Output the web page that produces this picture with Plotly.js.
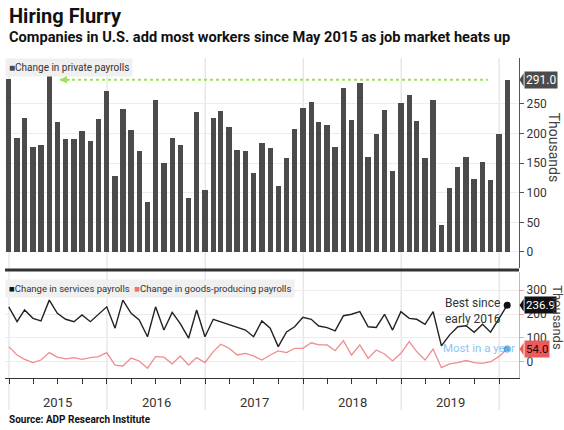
<!DOCTYPE html>
<html><head><meta charset="utf-8">
<script src="https://cdn.plot.ly/plotly-3.0.1.min.js"></script>
<style>body{margin:0;background:#fff}#c{width:564px;height:430px}</style>
</head><body><div id="c"></div>
<script>
// Monthly data Dec 2014 .. Jan 2020 (thousands)
const startYear = 2014, startMonth = 11; // December 2014 (0-based month)
const privatePayrolls = [292,192,227,178,180,297,220,190,190,204,187,224,
  272,129,242,206,170,84,256,151,192,181,91,237,
  105,226,238,211,173,171,134,184,175,111,158,207,
  243,253,220,214,178,277,223,286,160,200,240,137,
  251,266,222,158,256,45,108,143,160,124,152,122,
  200,291];
const servicesPayrolls = [230,168,217,182,171,258,203,178,168,196,168,199,
  230,141,258,203,175,105,230,133,207,160,99,217,
  105,178,168,158,147,133,105,171,141,64,125,147,
  186,178,150,143,130,193,199,210,147,144,199,133,
  210,182,178,157,210,67,112,147,151,124,157,124,
  180,236.9];
const goodsPayrolls = [64,29,11,-3,8,39,20,13,18,11,18,22,
  39,-13,-17,16,4,-26,22,20,-8,25,-13,18,
  -3,43,74,57,29,36,25,8,29,46,39,57,
  57,80,71,71,47,89,29,71,15,50,33,4,
  36,85,43,8,54,-24,-8,-3,6,-3,-6,1,
  22,54.0];
const yearLabels = ['2015','2016','2017','2018','2019'];
const topTicks = [0,50,100,150,200,250];
const bottomTicks = [0,100,200,300];
const recordValue = 291;

function monthEnd(i){
  const d = new Date(Date.UTC(startYear, startMonth + i + 1, 0));
  return d.toISOString().slice(0,10);
}
const dates = privatePayrolls.map((_, i) => monthEnd(i));
const last = dates.length - 1;

const FONT = 'Roboto, sans-serif';
const DAY = 86400000;

const traces = [
  {type:'bar', x:dates, y:privatePayrolls, xaxis:'x', yaxis:'y',
   marker:{color:'#4b4b4b'}, width:20*DAY, hoverinfo:'none'},
  {type:'scatter', mode:'lines', x:dates, y:goodsPayrolls, xaxis:'x2', yaxis:'y2',
   line:{color:'#f08c8c', width:1.3}, hoverinfo:'none'},
  {type:'scatter', mode:'lines', x:dates, y:servicesPayrolls, xaxis:'x2', yaxis:'y2',
   line:{color:'#222', width:1.4}, hoverinfo:'none'},
  {type:'scatter', mode:'markers', x:[dates[last]], y:[servicesPayrolls[last]], xaxis:'x2', yaxis:'y2',
   marker:{color:'#111', size:7}, hoverinfo:'none'},
  {type:'scatter', mode:'markers', x:[dates[last]], y:[goodsPayrolls[last]], xaxis:'x2', yaxis:'y2',
   marker:{color:'#3d9be9', size:7}, hoverinfo:'none'}
];

const xr = ['2014-12-17','2020-03-15'];
const shapes = [];
for (let y = 2015; y <= 2020; y++) {
  shapes.push({type:'line', xref:'x2', yref:'paper', x0:y+'-01-01', x1:y+'-01-01', y0:-0.1, y1:1,
    line:{color:'#dcdcdc', width:1}, layer:'below'});
}
// separator
shapes.push({type:'line', xref:'paper', yref:'paper', x0:0, x1:1, y0:0.3375, y1:0.3375,
  line:{color:'#333', width:3}});
// record line
shapes.push({type:'line', xref:'x', yref:'y', x0:'2015-07-10', x1:'2019-11-20', y0:recordValue, y1:recordValue,
  line:{color:'#9ee05c', width:2, dash:'dot'}});
// pointers for value labels
function pointer(yref, yv, dy, color){
  return {type:'path', xref:'paper', yref:yref,
    path:`M 1.001 ${yv} L 1.009 ${yv+dy} L 1.009 ${yv-dy} Z`, fillcolor:color, line:{width:0}};
}
shapes.push(pointer('y', recordValue, 11, '#4b4b4b'));
shapes.push(pointer('y2', servicesPayrolls[last], 26, '#111'));
shapes.push(pointer('y2', goodsPayrolls[last], 26, '#ec5b5b'));

const annotations = [
  {xref:'paper', yref:'paper', x:0.004, y:1.132, xanchor:'left', yanchor:'middle', showarrow:false,
   text:'<b>Hiring Flurry</b>', font:{family:FONT, size:20, color:'#111'}},
  {xref:'paper', yref:'paper', x:0.004, y:1.066, xanchor:'left', yanchor:'middle', showarrow:false,
   text:'<b>Companies in U.S. add most workers since May 2015 as job market heats up</b>', font:{family:FONT, size:14.6, color:'#111'}},
  {xref:'paper', yref:'paper', x:0.0, y:0.969, xanchor:'left', yanchor:'middle', showarrow:false,
   text:'<span style="color:#4b4b4b">■</span>Change in private payrolls', bgcolor:'#f0f0f0', borderpad:3,
   font:{family:FONT, size:10, color:'#333'}},
  {xref:'paper', yref:'paper', x:0.0, y:0.281, xanchor:'left', yanchor:'middle', showarrow:false,
   text:'<span style="color:#111">■</span>Change in services payrolls  <span style="color:#f07070">■</span>Change in goods-producing payrolls',
   bgcolor:'#f0f0f0', borderpad:3, font:{family:FONT, size:9.5, color:'#333'}},
  {xref:'x', yref:'y', x:'2015-07-08', y:recordValue, ax:12, ay:0, showarrow:true, arrowhead:2, arrowsize:1,
   arrowwidth:1.5, arrowcolor:'#9ee05c', text:''},
  {xref:'paper', yref:'y', x:1.009, y:recordValue, xanchor:'left', yanchor:'middle', showarrow:false,
   text:recordValue.toFixed(1), bgcolor:'#4b4b4b', borderpad:1, font:{family:FONT, size:12, color:'#fff'}},
  {xref:'paper', yref:'y2', x:1.009, y:servicesPayrolls[last], xanchor:'left', yanchor:'middle', showarrow:false,
   text:servicesPayrolls[last].toFixed(1), bgcolor:'#111', borderpad:1, font:{family:FONT, size:11.5, color:'#fff'}},
  {xref:'paper', yref:'y2', x:1.009, y:goodsPayrolls[last], xanchor:'left', yanchor:'middle', showarrow:false,
   text:goodsPayrolls[last].toFixed(1), bgcolor:'#ec5b5b', borderpad:1, font:{family:FONT, size:11.5, color:'#2a0000'}},
  {xref:'paper', yref:'paper', x:0.852, y:0.209, xanchor:'left', yanchor:'middle', showarrow:false, align:'left',
   text:'Best since<br>early 2016', font:{family:FONT, size:12, color:'#333'}},
  {xref:'paper', yref:'paper', x:0.849, y:0.094, xanchor:'left', yanchor:'middle', showarrow:false,
   text:'Most in a year', font:{family:FONT, size:11.5, color:'#8fc4ef'}},
  {xref:'paper', yref:'paper', x:1.068, y:0.72, xanchor:'center', yanchor:'middle', showarrow:false, textangle:90,
   text:'Thousands', font:{family:FONT, size:14, color:'#444'}},
  {xref:'paper', yref:'paper', x:1.076, y:0.19, xanchor:'center', yanchor:'middle', showarrow:false, textangle:90,
   text:'Thousands', font:{family:FONT, size:13, color:'#444'}},
  {xref:'paper', yref:'paper', x:0.004, y:-0.131, xanchor:'left', yanchor:'middle', showarrow:false,
   text:'<b>Source: ADP Research Institute</b>', font:{family:FONT, size:10, color:'#111'}}
];
yearLabels.forEach(y => annotations.push({xref:'x2', yref:'paper', x:y+'-07-02', y:-0.078, showarrow:false,
  xanchor:'center', yanchor:'middle', text:y, font:{family:FONT, size:13, color:'#333'}}));

const layout = {
  width:564, height:430, margin:{l:5, r:45, t:58, b:52},
  paper_bgcolor:'#fff', plot_bgcolor:'#fff', showlegend:false, bargap:0,
  font:{family:FONT, size:12, color:'#333'},
  xaxis:{domain:[0,1], anchor:'y', type:'date', range:xr, showticklabels:false, showgrid:false, zeroline:false, ticks:''},
  yaxis:{domain:[0.344,1], anchor:'x', side:'right', range:[-27,327.7], tickvals:topTicks,
    ticks:'outside', ticklen:4, tickcolor:'#555', showline:true, linecolor:'#555', linewidth:1,
    gridcolor:'#ececec', zeroline:false, tickfont:{family:FONT, size:12, color:'#333'}},
  xaxis2:{domain:[0,1], anchor:'y2', type:'date', range:xr, showticklabels:false, showgrid:false, zeroline:false,
    ticks:'outside', ticklen:5, tickcolor:'#333', dtick:'M3', tick0:'2015-01-01', showline:true, linecolor:'#333', linewidth:1},
  yaxis2:{domain:[0,0.331], anchor:'x2', side:'right', range:[-67,375], tickvals:bottomTicks,
    ticks:'outside', ticklen:4, tickcolor:'#f2a0a0', showline:true, linecolor:'#f2a0a0', linewidth:1,
    gridcolor:'#ececec', zeroline:false, tickfont:{family:FONT, size:12, color:'#333'}},
  shapes:shapes, annotations:annotations
};
Plotly.newPlot('c', traces, layout, {staticPlot:true, displayModeBar:false});
</script></body></html>
